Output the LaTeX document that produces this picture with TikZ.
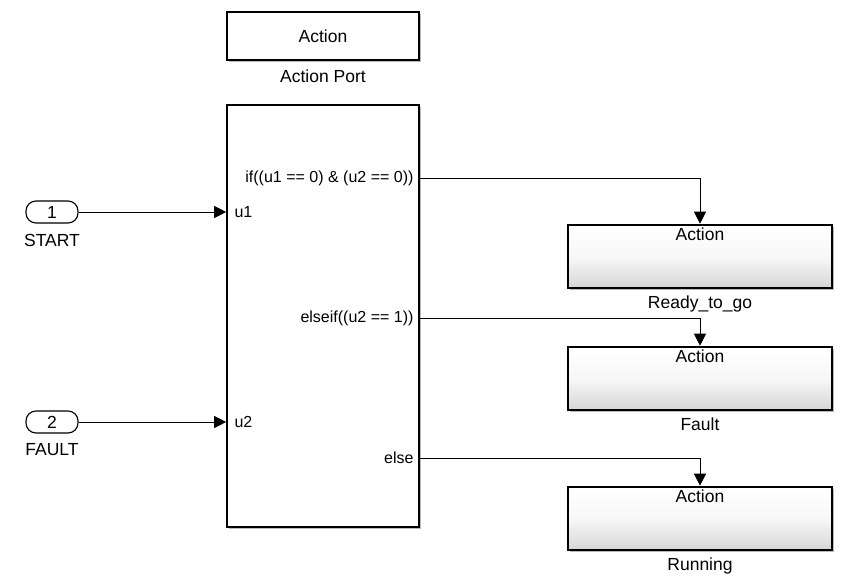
\documentclass[tikz,border=0pt]{standalone}
\usepackage{fontspec}
\setmainfont{Liberation Sans}
\usetikzlibrary{arrows.meta,shadows}
\tikzset{
  blk/.style={draw,line width=1.6pt,fill=white,minimum width=192pt,inner sep=0pt,
    drop shadow={shadow xshift=2pt,shadow yshift=-2pt,fill=black!45,opacity=.6}},
  sub/.style={draw,line width=2.6pt,top color=white,bottom color=black!16,middle color=black!3,
    minimum width=264pt,minimum height=63pt,inner sep=0pt,
    drop shadow={shadow xshift=2pt,shadow yshift=-2pt,fill=black!45,opacity=.6},
    label={[anchor=north,inner sep=4pt]north:Action}},
  port/.style={draw,line width=1.1pt,fill=white,rounded corners=10pt,minimum width=52pt,minimum height=22pt,inner sep=0pt},
  sig/.style={line width=.8pt,-{Triangle[length=12pt,width=12pt]}},
  nm/.style={label distance=3pt},
  pl/.style={font=\fontsize{16}{19}\selectfont}
}

\begin{document}
\begin{tikzpicture}[x=1pt,y=-1pt,font=\fontsize{17.5}{20}\selectfont]
	\useasboundingbox (0,0) rectangle (851,580);
	
	% action port
	\node[blk,minimum height=48pt] (aport) at (323,36) {Action};
	\node (aportname) at (323,76) {Action Port};
	
	% if block
	\node[blk,minimum height=422pt] (ifblk) at (323,316) {};
	\path[pl]
	(231,212) node[anchor=west] (u1) {u1}
	(231,422) node[anchor=west] (u2) {u2};
	\path[pl,anchor=east]
	(417,178) node (outif) {if((u1 == 0) \& (u2 == 0))}
	(417,318) node (outelseif) {elseif((u2 == 1))}
	(417,458) node (outelse) {else};
	
	% inports
	\node[port] (in1) at (52,212) {1};
	\node (in1name) at (52,240) {START};
	\node[port] (in2) at (52,422) {2};
	\node (in2name) at (52,450) {FAULT};
	
	% subsystems
	\node[sub,label={[nm]below:Ready\_to\_go}] (ready) at (700,256.5) {};
	\node[sub,label={[nm]below:Fault}] (fault) at (700,378.5) {};
	\node[sub,label={[nm]below:Running}] (running) at (700,518.5) {};
	
	% signals
	\draw[sig] (in1) -- (in1 -| ifblk.west);
	\draw[sig] (in2) -- (in2 -| ifblk.west);
	\draw[sig] (ifblk.east |- outif) -| (ready.north);
	\draw[sig] (ifblk.east |- outelseif) -| (fault.north);
	\draw[sig] (ifblk.east |- outelse) -| (running.north);
\end{tikzpicture}
\end{document}
